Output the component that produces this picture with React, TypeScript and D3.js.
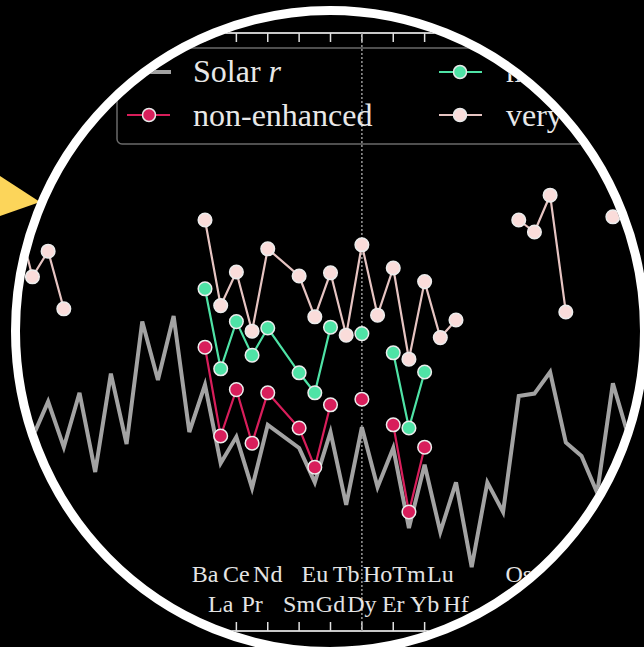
import React from "react";
import * as d3 from "d3";

// Atomic numbers and the solar r-process pattern (Pm omitted)
const solarZ = [44, 45, 46, 47, 48, 49, 50, 51, 52, 53, 54, 55, 56, 57, 58, 59, 60, 62, 63, 64, 65, 66, 67, 68, 69, 70, 71, 72, 73, 74, 75, 76, 77, 78, 79, 80, 81, 82, 83];
const solarR = [0.38, 0.03, 0.48, -0.09, 0.59, -0.40, 0.83, -0.05, 1.48, 0.75, 1.55, 0.10, 0.69, -0.29, 0.04, -0.60, 0.19, -0.10, -0.53, 0.10, -0.81, 0.16, -0.59, -0.10, -1.10, -0.31, -1.15, -0.53, -1.59, -0.53, -0.90, 0.55, 0.58, 0.85, -0.03, -0.20, -0.66, 0.71, 0.04];

// Series: atomic numbers (Pm omitted) and abundances (null = no measurement, breaks the line)
const seriesZ = [44, 45, 46, 47, 48, 49, 50, 51, 52, 53, 54, 55, 56, 57, 58, 59, 60, 62, 63, 64, 65, 66, 67, 68, 69, 70, 71, 72, 73, 74, 75, 76, 77, 78, 79, 80, 81, 82];
const nonEnhanced = [null, null, null, null, null, null, null, null, null, null, null, null, 1.16, 0.05, 0.63, -0.04, 0.59, 0.15, -0.34, 0.44, null, 0.51, null, 0.19, -0.90, -0.09, null, null, null, null, null, null, null, null, null, null, null, null];
const mildlyEnhanced = [null, null, null, null, null, null, null, null, null, null, null, null, 1.89, 0.89, 1.48, 1.06, 1.40, 0.84, 0.59, 1.41, null, 1.33, null, 1.09, 0.15, 0.85, null, null, null, null, null, null, null, null, null, null, null, null];
const veryEnhanced = [2.81, 2.04, 2.36, 1.64, null, null, null, null, null, null, null, null, 2.75, 1.68, 2.10, 1.36, 2.39, 2.05, 1.54, 2.09, 1.31, 2.44, 1.56, 2.15, 1.01, 1.98, 1.28, 1.50, null, null, null, 2.75, 2.60, 3.06, 1.60, null, null, 2.79];

// Tick labels
const labelZ = [56, 57, 58, 59, 60, 62, 63, 64, 65, 66, 67, 68, 69, 70, 71, 72, 76];
const labelNames = ["Ba", "La", "Ce", "Pr", "Nd", "Sm", "Eu", "Gd", "Tb", "Dy", "Ho", "Er", "Tm", "Yb", "Lu", "Hf", "Os"];

const legendNames = ["Solar ", "non-enhanced", "mildly enhanced", "very enhanced"];

const W = 644;
const H = 647;
const CX = 330, CY = 331, RX = 314.5, RY = 320.5, RING = 9;

const COL_SOLAR = "#a3a3a3";
const COL_RED = "#d81e5b";
const COL_GREEN = "#4fe3a6";
const COL_PINK = "#fadcda";
const COL_PINK_LINE = "#e6c4c2";
const FONT = "'Liberation Serif', 'DejaVu Serif', serif";

export default function App() {
  const x = d3.scaleLinear().domain([56, 72]).range([205, 456]);
  const y = d3.scaleLinear().domain([-2, 3]).range([600, 200]);

  const solarPts = solarZ.map((z, i) => [z, solarR[i]] as [number, number]);
  const solarLine = d3.line<[number, number]>().x((d) => x(d[0])).y((d) => y(d[1]))(solarPts) || "";

  const mk = (vals: (number | null)[]) => seriesZ.map((z, i) => ({ z, v: vals[i] }));
  const lineGen = d3
    .line<{ z: number; v: number | null }>()
    .defined((d) => d.v !== null)
    .x((d) => x(d.z))
    .y((d) => y(d.v as number));

  const series = [
    { data: mk(nonEnhanced), fill: COL_RED, line: COL_RED },
    { data: mk(mildlyEnhanced), fill: COL_GREEN, line: COL_GREEN },
    { data: mk(veryEnhanced), fill: COL_PINK, line: COL_PINK_LINE },
  ];

  const ticks = d3.range(44, 84, 2);

  return (
    <svg width={W} height={H} style={{ position: "fixed", left: 0, top: 0, background: "#000" }}>
      <defs>
        <clipPath id="lens">
          <ellipse cx={CX} cy={CY} rx={RX - RING / 2} ry={RY - RING / 2} />
        </clipPath>
      </defs>
      <rect x={0} y={0} width={W} height={H} fill="#000" />
      <polygon points="0,176 40,202 0,216" fill="#fcd55a" />
      <ellipse cx={CX} cy={CY} rx={RX} ry={RY} fill="#000" />
      <g clipPath="url(#lens)">
        {/* top axis */}
        <line x1={0} x2={W} y1={33} y2={33} stroke="#c8c8c8" strokeWidth={2} />
        {ticks.map((t) => (
          <line key={"tt" + t} x1={x(t)} x2={x(t)} y1={33} y2={42} stroke="#e0e0e0" strokeWidth={1.5} />
        ))}
        {/* bottom axis */}
        <line x1={0} x2={W} y1={631} y2={631} stroke="#c8c8c8" strokeWidth={2} />
        {ticks.map((t) => (
          <line key={"bt" + t} x1={x(t)} x2={x(t)} y1={622} y2={631} stroke="#e0e0e0" strokeWidth={1.5} />
        ))}
        {/* dotted reference line */}
        <line x1={x(66)} x2={x(66)} y1={33} y2={631} stroke="#9a9a9a" strokeWidth={1.5} strokeDasharray="2,2" />

        {/* legend */}
        <rect x={117} y={48} width={700} height={96} rx={5} fill="none" stroke="#6a6a6a" strokeWidth={1.5} />
        <line x1={126} x2={171} y1={72} y2={72} stroke={COL_SOLAR} strokeWidth={4} />
        <text x={193} y={82} fill="#e8e8e8" fontFamily={FONT} fontSize={32}>
          {legendNames[0]}
          <tspan fontStyle="italic">r</tspan>
        </text>
        <line x1={127} x2={170} y1={115} y2={115} stroke={COL_RED} strokeWidth={2} />
        <circle cx={149} cy={115} r={6.5} fill={COL_RED} stroke="#e8e8e8" strokeWidth={1.5} />
        <text x={193} y={126} fill="#e8e8e8" fontFamily={FONT} fontSize={32}>
          {legendNames[1]}
        </text>
        <line x1={439} x2={482} y1={72} y2={72} stroke={COL_GREEN} strokeWidth={2} />
        <circle cx={460} cy={72} r={6.5} fill={COL_GREEN} stroke="#e8e8e8" strokeWidth={1.5} />
        <text x={506} y={82} fill="#e8e8e8" fontFamily={FONT} fontSize={32}>
          {legendNames[2]}
        </text>
        <line x1={439} x2={482} y1={115} y2={115} stroke={COL_PINK_LINE} strokeWidth={2} />
        <circle cx={460} cy={115} r={6.5} fill={COL_PINK} stroke="#e8e8e8" strokeWidth={1.5} />
        <text x={506} y={126} fill="#e8e8e8" fontFamily={FONT} fontSize={32}>
          {legendNames[3]}
        </text>

        {/* solar pattern */}
        <path d={solarLine} fill="none" stroke={COL_SOLAR} strokeWidth={4} strokeLinejoin="miter" />

        {/* series */}
        {series.map((s, si) => (
          <g key={"s" + si}>
            <path d={lineGen(s.data) || ""} fill="none" stroke={s.line} strokeWidth={2.2} />
            {s.data
              .filter((d) => d.v !== null)
              .map((d) => (
                <circle key={d.z} cx={x(d.z)} cy={y(d.v as number)} r={6.8} fill={s.fill} stroke="#ececec" strokeWidth={1.5} />
              ))}
          </g>
        ))}

        {/* tick labels */}
        {labelZ.map((z, i) => (
          <text
            key={"lab" + z}
            x={x(z)}
            y={i % 2 === 0 ? 582 : 612}
            textAnchor="middle"
            fill="#e4e4e4"
            fontFamily={FONT}
            fontSize={24}
          >
            {labelNames[i]}
          </text>
        ))}
      </g>
      <ellipse cx={CX} cy={CY} rx={RX} ry={RY} fill="none" stroke="#ffffff" strokeWidth={RING} />
    </svg>
  );
}
